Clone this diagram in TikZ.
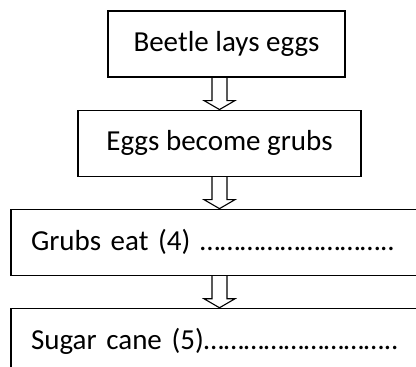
\documentclass[tikz,border=0pt]{standalone}
\usepackage{fontspec}
\setmainfont{Carlito}
\usetikzlibrary{positioning,calc}

\tikzset{
	stage/.style={draw, line width=1.1pt, minimum height=66pt, inner sep=0pt,
		font=\fontsize{29}{35}\selectfont},
	longstage/.style={stage, text width=390pt, inner xsep=20pt, align=left},
	hollow/.style={draw, line width=1.1pt, line join=miter}
}

\begin{document}
\begin{tikzpicture}[x=1pt, y=1pt]
		\clip (0,0) rectangle (416,-367);
		\node[stage, minimum width=237pt] (lay) at (226.5,-44) {Beetle lays eggs};
		\node[stage, minimum width=283pt, below=32pt of lay, xshift=-7pt] (hatch) {Eggs become grubs};
		\node[longstage, below=32pt of hatch, xshift=6.5pt] (feed) {Grubs eat (4) ………………………..};
		\node[longstage, below=32pt of feed] (cane) {Sugar cane (5)………………………..};
		% open arrows between the stages
		\draw[hollow] ($(lay.south -| hatch.north)+(-7.5,0)$) -- ($(hatch.north)+(-7.5,9)$)
		-- ++(-8,0) -- (hatch.north) -- ++(15.5,9) -- ++(-8,0)
		-- ($(lay.south -| hatch.north)+(7.5,0)$);
		\draw[hollow] ($(hatch.south)+(-7.5,0)$) -- ($(feed.north -| hatch.south)+(-7.5,9)$)
		-- ++(-8,0) -- (feed.north -| hatch.south) -- ++(15.5,9) -- ++(-8,0)
		-- ($(hatch.south)+(7.5,0)$);
		\draw[hollow] ($(feed.south -| hatch.south)+(-7.5,0)$) -- ($(cane.north -| hatch.south)+(-7.5,9)$)
		-- ++(-8,0) -- (cane.north -| hatch.south) -- ++(15.5,9) -- ++(-8,0)
		-- ($(feed.south -| hatch.south)+(7.5,0)$);
\end{tikzpicture}
\end{document}
